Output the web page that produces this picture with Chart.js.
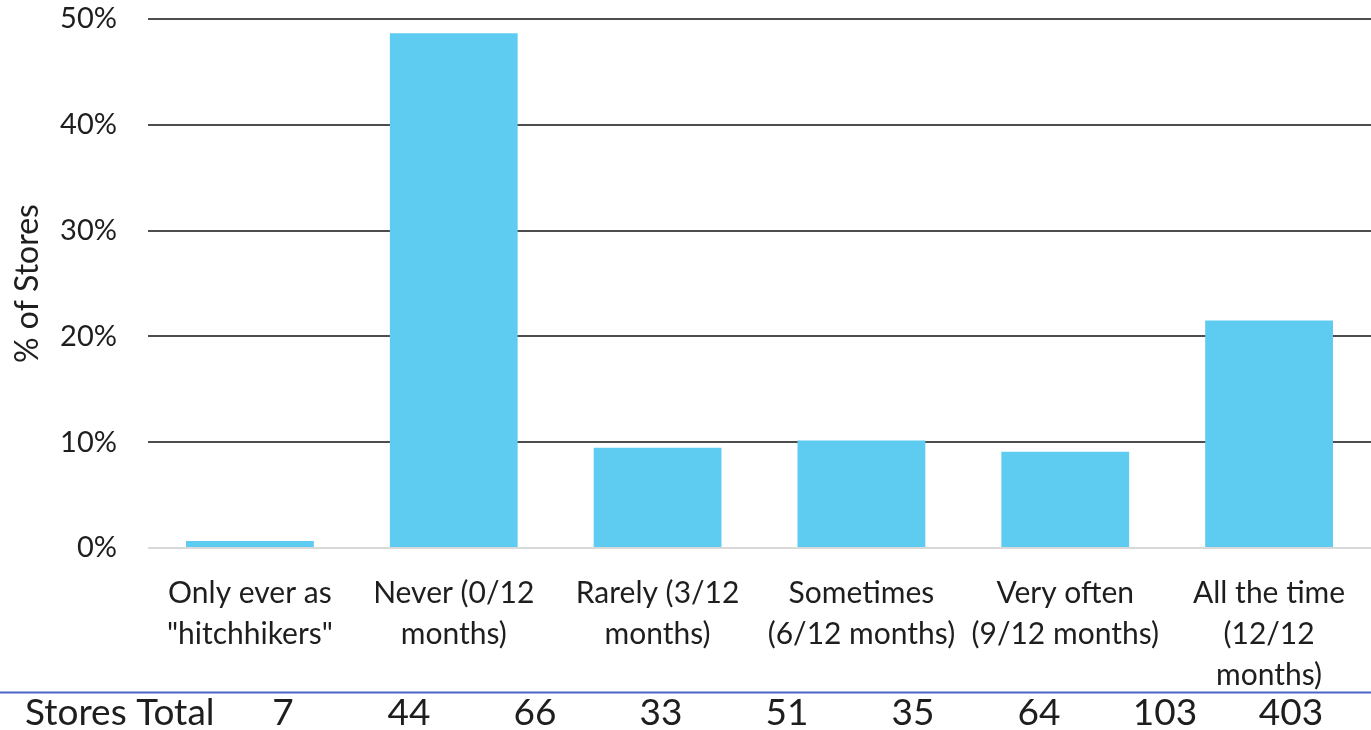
<!DOCTYPE html>
<html>
<head>
<meta charset="utf-8">
<script src="https://cdn.jsdelivr.net/npm/chart.js@4/dist/chart.umd.min.js"></script>
<style>
  html, body { margin: 0; padding: 0; background: #fff; }
  #wrap { width: 1371px; height: 730px; position: relative; }
</style>
</head>
<body>
<div id="wrap"><canvas id="chart"></canvas></div>
<script>
const categories = [
  ['Only ever as', '"hitchhikers"'],
  ['Never (0/12', 'months)'],
  ['Rarely (3/12', 'months)'],
  ['Sometimes', '(6/12 months)'],
  ['Very often', '(9/12 months)'],
  ['All the time', '(12/12', 'months)'],
];
const storeShare = [0.66, 48.65, 9.47, 10.15, 9.1, 21.5];
const yTicks = [0, 10, 20, 30, 40, 50];

const tableLabel = 'Stores Total';
const storesTotals = [7, 44, 66, 33, 51, 35, 64, 103, 403];

const FONT = 'Lato, "Open Sans", sans-serif';
const TEXT = '#1e1e1e';

// totals row under the chart, with its blue rule
const storesTable = {
  id: 'storesTable',
  afterDraw(chart) {
    const ctx = chart.ctx;
    const w = chart.width;
    ctx.save();
    ctx.strokeStyle = '#4a66c8';
    ctx.lineWidth = 2;
    ctx.beginPath();
    ctx.moveTo(0, 692.5);
    ctx.lineTo(w, 692.5);
    ctx.stroke();

    ctx.fillStyle = TEXT;
    ctx.font = `37px ${FONT}`;
    ctx.textBaseline = 'alphabetic';
    ctx.textAlign = 'left';
    ctx.fillText(tableLabel, 25, 725);
    ctx.textAlign = 'center';
    storesTotals.forEach((v, i) => {
      ctx.fillText(String(v), 283 + i * 126, 725);
    });
    ctx.restore();
  }
};

new Chart(document.getElementById('chart'), {
  type: 'bar',
  data: {
    labels: categories,
    datasets: [{
      data: storeShare,
      backgroundColor: '#5ecbf1',
      borderWidth: 0,
      categoryPercentage: 1,
      barPercentage: 0.627,
    }],
  },
  options: {
    responsive: true,
    maintainAspectRatio: false,
    animation: false,
    layout: { padding: { top: 19, right: 0, left: 0, bottom: 0 } },
    plugins: {
      legend: { display: false },
      tooltip: { enabled: false },
    },
    scales: {
      x: {
        grid: { display: false },
        border: { display: false },
        ticks: {
          color: TEXT,
          font: { family: FONT, size: 30, lineHeight: 1.37 },
          padding: 17,
          maxRotation: 0,
          autoSkip: false,
        },
        afterFit: scale => {
          scale.height = 182;
          scale.paddingLeft = 0;
          scale.paddingRight = 0;
        },
      },
      y: {
        min: 0,
        max: 50,
        afterBuildTicks: scale => {
          scale.ticks = yTicks.map(v => ({ value: v }));
        },
        grid: {
          drawTicks: false,
          lineWidth: 2,
          color: c => (c.tick && c.tick.value === 0 ? '#d9d9d9' : '#4d4d4d'),
        },
        border: { display: false },
        ticks: {
          color: TEXT,
          font: { family: FONT, size: 29 },
          padding: 31,
          callback: v => v + '%',
        },
        title: {
          display: true,
          text: '% of Stores',
          color: TEXT,
          font: { family: FONT, size: 32 },
          padding: { top: 8, bottom: 0 },
        },
        afterFit: scale => {
          scale.width = 148;
          scale.paddingTop = 0;
          scale.paddingBottom = 0;
        },
      },
    },
  },
  plugins: [storesTable],
});
</script>
</body>
</html>
